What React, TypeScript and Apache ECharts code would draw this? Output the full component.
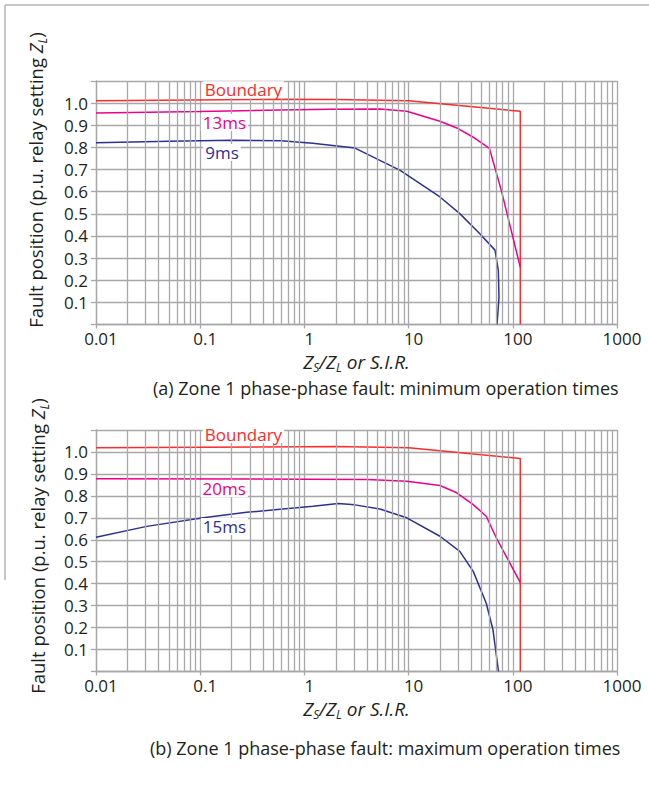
import React, { useEffect, useRef } from "react";
import * as echarts from "echarts";

// ---------- data ----------
const xTickLabels = ["0.01", "0.1", "1", "10", "100", "1000"];
const yTickLabels = ["0.1", "0.2", "0.3", "0.4", "0.5", "0.6", "0.7", "0.8", "0.9", "1.0"];
const decades = [0.01, 0.1, 1, 10, 100];
const minorMultipliers = [2, 3, 4, 5, 6, 7, 8, 9];

// (a) minimum operation times
const boundaryA_x = [0.01, 0.5, 2, 10, 118, 118];
const boundaryA_y = [1.011, 1.017, 1.016, 1.011, 0.963, 0];
const ms13A_x = [0.01, 0.1, 0.58, 1.76, 5.3, 9.6, 20, 29, 41.7, 59.6, 77.6, 118];
const ms13A_y = [0.956, 0.962, 0.969, 0.972, 0.974, 0.963, 0.918, 0.888, 0.846, 0.796, 0.606, 0.258];
const ms9A_x = [0.01, 0.05, 0.2, 0.6, 1.2, 3.06, 8.3, 20, 31, 48, 67.5, 72.6, 73.7, 71.5, 70.5];
const ms9A_y = [0.821, 0.828, 0.832, 0.83, 0.819, 0.797, 0.696, 0.576, 0.501, 0.411, 0.336, 0.245, 0.125, 0.035, 0];

// (b) maximum operation times
const boundaryB_x = [0.01, 1, 2, 10, 118, 118];
const boundaryB_y = [1.019, 1.024, 1.025, 1.019, 0.97, 0];
const ms20B_x = [0.01, 1, 4, 9.6, 20, 29, 41.7, 55.6, 69.6, 118];
const ms20B_y = [0.878, 0.876, 0.874, 0.867, 0.847, 0.814, 0.76, 0.707, 0.608, 0.405];
const ms15B_x = [0.01, 0.0307, 0.107, 0.279, 1.21, 2.11, 3.06, 5.3, 9.6, 20, 31, 41.7, 55.6, 64.5, 72.6, 73];
const ms15B_y = [0.611, 0.661, 0.7, 0.725, 0.753, 0.765, 0.759, 0.74, 0.7, 0.616, 0.547, 0.456, 0.311, 0.19, 0.007, 0];

const labelsA = ["Boundary", "13ms", "9ms"];
const labelsB = ["Boundary", "20ms", "15ms"];
const captions = [
  "(a) Zone 1 phase-phase fault: minimum operation times",
  "(b) Zone 1 phase-phase fault: maximum operation times",
];

// ---------- styling ----------
const FONT = '"Open Sans", "Noto Sans", sans-serif';
const RED = "#ff2a2a";
const MAGENTA = "#ec008c";
const BLUE = "#2e3192";
const GRID = "#a8a8aa";
const TEXT = "#231f20";

// label anchor points in data coordinates
const labelPosA = [[0.26, 1.061], [0.171, 0.912], [0.162, 0.777]];
const labelPosB = [[0.26, 1.08], [0.17, 0.833], [0.171, 0.66]];

const zip = (xs: number[], ys: number[]) => xs.map((x, i) => [x, ys[i]]);

const minorLines: number[] = [];
decades.forEach((d) => minorMultipliers.forEach((m) => minorLines.push(+(d * m).toPrecision(3))));

function curve(name: string, xs: number[], ys: number[], color: string, gi: number, label: string, pos: number[]) {
  return {
    name,
    type: "line",
    xAxisIndex: gi,
    yAxisIndex: gi,
    data: zip(xs, ys),
    showSymbol: false,
    symbol: "none",
    z: 3,
    lineStyle: { color, width: 1.5 },
    itemStyle: { color },
    markPoint: {
      symbol: "rect",
      symbolSize: [1, 1],
      itemStyle: { color: "rgba(0,0,0,0)" },
      silent: true,
      data: [{ coord: pos, name: label }],
      label: {
        show: true,
        position: "inside",
        formatter: () => label,
        color,
        fontSize: 17,
        fontFamily: FONT,
        backgroundColor: "#ffffff",
        padding: [0, 2, 0, 2],
      },
    },
  };
}

function gridLines(gi: number) {
  return {
    type: "line",
    xAxisIndex: gi,
    yAxisIndex: gi,
    data: [],
    z: 1,
    silent: true,
    markLine: {
      silent: true,
      symbol: ["none", "none"],
      label: { show: false },
      lineStyle: { color: GRID, width: 1.3, type: "solid" },
      data: minorLines.map((v) => ({ xAxis: v })),
    },
  };
}

const xName = "{i|Z}{s|S}{i|/Z}{s|L}{i| or S.I.R.}";
const richItalic = {
  i: { fontStyle: "italic", fontSize: 19, fontFamily: FONT, color: TEXT, lineHeight: 24 },
  s: { fontStyle: "italic", fontSize: 12, fontFamily: FONT, color: TEXT, lineHeight: 12, verticalAlign: "bottom" },
};
const yName = "{r|Fault position (p.u. relay setting }{i|Z}{s|L}{r|)}";
const richY = {
  r: { fontSize: 18.5, fontFamily: FONT, fill: TEXT, color: TEXT, lineHeight: 26 },
  i: { fontStyle: "italic", fontSize: 18.5, fontFamily: FONT, fill: TEXT, color: TEXT, lineHeight: 26 },
  s: { fontStyle: "italic", fontSize: 12, fontFamily: FONT, fill: TEXT, color: TEXT, lineHeight: 14, verticalAlign: "bottom" },
};

function xAxis(gi: number) {
  return {
    type: "log",
    gridIndex: gi,
    logBase: 10,
    min: 0.01,
    max: 1000,
    name: xName,
    nameLocation: "middle",
    nameGap: 25,
    nameTextStyle: { rich: richItalic, fontStyle: "italic", fontSize: 19, fontFamily: FONT, color: TEXT },
    axisLine: { show: true, lineStyle: { color: GRID, width: 1.3 } },
    axisTick: { show: true, length: 4, lineStyle: { color: GRID, width: 1.3 } },
    splitLine: { show: true, lineStyle: { color: GRID, width: 1.3 } },
    axisLabel: {
      fontSize: 17,
      fontFamily: FONT,
      color: TEXT,
      margin: 5,
      padding: [0, 0, 0, 10],
      lineHeight: 18,
      formatter: (v: number) => xTickLabels[Math.round(Math.log10(v)) + 2] ?? "",
    },
  };
}

function yAxis(gi: number) {
  return {
    type: "value",
    gridIndex: gi,
    min: 0,
    max: 1.1,
    interval: 0.1,
    axisLine: { show: true, lineStyle: { color: GRID, width: 1.3 } },
    axisTick: { show: true, length: 5, lineStyle: { color: GRID, width: 1.3 } },
    splitLine: { show: true, lineStyle: { color: GRID, width: 1.3 } },
    axisLabel: {
      fontSize: 17,
      fontFamily: FONT,
      color: TEXT,
      margin: 8,
      formatter: (v: number) => {
        const k = Math.round(v * 10);
        return k >= 1 && k <= 10 ? yTickLabels[k - 1] : "";
      },
    },
  };
}

export default function App() {
  const ref = useRef<HTMLDivElement>(null);
  useEffect(() => {
    if (!ref.current) return;
    const chart = echarts.init(ref.current, null, { renderer: "svg" });
    chart.setOption({
      animation: false,
      backgroundColor: "#ffffff",
      title: [
        { text: captions[0], left: 148, top: 374, textStyle: { fontSize: 18, fontWeight: "normal", fontFamily: FONT, color: TEXT } },
        { text: captions[1], left: 145, top: 734, textStyle: { fontSize: 18, fontWeight: "normal", fontFamily: FONT, color: TEXT } },
      ],
      grid: [
        { left: 96, top: 81, width: 521, height: 243.5 },
        { left: 96, top: 430, width: 521, height: 241.5 },
      ],
      xAxis: [xAxis(0), xAxis(1)],
      yAxis: [yAxis(0), yAxis(1)],
      graphic: [
        { type: "line", shape: { x1: 5, y1: 5, x2: 649, y2: 5 }, style: { stroke: "#c8c8ca", lineWidth: 2 }, silent: true },
        { type: "line", shape: { x1: 5, y1: 5, x2: 5, y2: 580 }, style: { stroke: "#c8c8ca", lineWidth: 2 }, silent: true },
        {
          type: "text", x: 35, y: 180, rotation: Math.PI / 2, silent: true,
          style: { text: yName, rich: richY, fontSize: 18.5, fontFamily: FONT, fill: TEXT, align: "center", verticalAlign: "middle", textAlign: "center", textVerticalAlign: "middle" },
        },
        {
          type: "text", x: 37, y: 546, rotation: Math.PI / 2, silent: true,
          style: { text: yName, rich: richY, fontSize: 18.5, fontFamily: FONT, fill: TEXT, align: "center", verticalAlign: "middle", textAlign: "center", textVerticalAlign: "middle" },
        },
      ],
      series: [
        gridLines(0),
        gridLines(1),
        curve("Boundary (a)", boundaryA_x, boundaryA_y, RED, 0, labelsA[0], labelPosA[0]),
        curve("13ms", ms13A_x, ms13A_y, MAGENTA, 0, labelsA[1], labelPosA[1]),
        curve("9ms", ms9A_x, ms9A_y, BLUE, 0, labelsA[2], labelPosA[2]),
        curve("Boundary (b)", boundaryB_x, boundaryB_y, RED, 1, labelsB[0], labelPosB[0]),
        curve("20ms", ms20B_x, ms20B_y, MAGENTA, 1, labelsB[1], labelPosB[1]),
        curve("15ms", ms15B_x, ms15B_y, BLUE, 1, labelsB[2], labelPosB[2]),
      ],
    });
    return () => chart.dispose();
  }, []);
  return (
    <div
      ref={ref}
      style={{ position: "absolute", left: 0, top: 0, width: 649, height: 809, background: "#fff" }}
    />
  );
}
